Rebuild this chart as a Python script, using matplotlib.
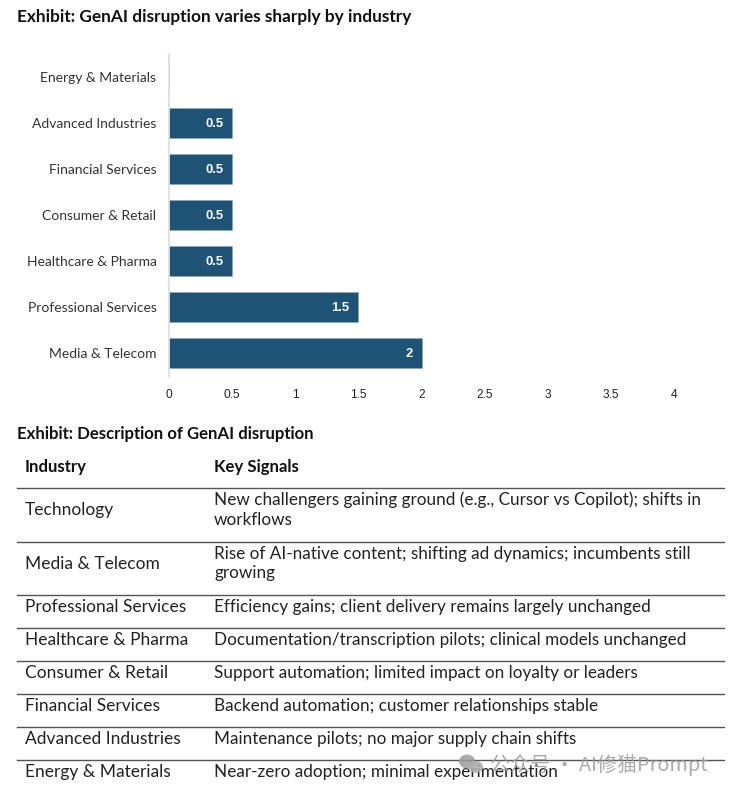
import matplotlib
matplotlib.use("Agg")
import matplotlib.pyplot as plt
from matplotlib.lines import Line2D
from matplotlib.patches import Ellipse

W, H = 731, 793
industries = ["Energy & Materials", "Advanced Industries", "Financial Services", "Consumer & Retail",
              "Healthcare & Pharma", "Professional Services", "Media & Telecom"]
scores = [0, 0.5, 0.5, 0.5, 0.5, 1.5, 2]
x_ticks = [0, 0.5, 1, 1.5, 2, 2.5, 3, 3.5, 4]
x_tick_labels = ["0", "0.5", "1", "1.5", "2", "2.5", "3", "3.5", "4"]
table_industries = ["Technology", "Media & Telecom", "Professional Services", "Healthcare & Pharma",
                    "Consumer & Retail", "Financial Services", "Advanced Industries", "Energy & Materials"]
table_signals = [
    "New challengers gaining ground (e.g., Cursor vs Copilot); shifts in\nworkflows",
    "Rise of AI-native content; shifting ad dynamics; incumbents still\ngrowing",
    "Efficiency gains; client delivery remains largely unchanged",
    "Documentation/transcription pilots; clinical models unchanged",
    "Support automation; limited impact on loyalty or leaders",
    "Backend automation; customer relationships stable",
    "Maintenance pilots; no major supply chain shifts",
    "Near-zero adoption; minimal experimentation",
]
title_1 = "Exhibit: GenAI disruption varies sharply by industry"
title_2 = "Exhibit: Description of GenAI disruption"
header = ["Industry", "Key Signals"]
watermark = "公众号 · AI修猫Prompt"

# layout (pixels from the top of the picture)
rule_y = [488, 542, 595, 628, 661, 694, 727, 760]
row_text_y = [510, 564, 607, 640, 673, 706, 739, 772]
signal_text_y = [510, 563.5, 607, 640, 673, 706, 739, 772]

plt.rcParams["font.family"] = ["Lato", "DejaVu Sans"]
fig = plt.figure(figsize=(W / 100, H / 100), dpi=100, facecolor="white")

def fx(p): return p / W
def fy(p): return 1 - p / H

ax = fig.add_axes([fx(169), fy(376), 505 / W, 322 / H])
ax.barh(range(len(industries)), scores, height=0.67, color="#1F5376", edgecolor="#8FA9BC", linewidth=0.4)
ax.set_xlim(0, 4)
ax.set_ylim(-0.5, len(industries) - 0.5)
ax.invert_yaxis()
ax.set_yticks(range(len(industries)), industries, fontsize=10.0, color="#333333")
ax.set_xticks(x_ticks, x_tick_labels, fontsize=8.6, color="#222222", family=["Liberation Sans"])
ax.tick_params(axis="x", length=0, pad=9)
ax.tick_params(axis="y", length=0, pad=9)
for s in ["top", "right", "bottom"]:
    ax.spines[s].set_visible(False)
ax.spines["left"].set_color("#DDDDDD")
ax.spines["left"].set_linewidth(1.2)
for b in [i - 0.5 for i in range(len(industries) + 1)]:
    ax.plot([-0.012, 0], [b, b], color="#DDDDDD", lw=1, clip_on=False, solid_capstyle="butt")
for i, v in enumerate(scores):
    if v > 0:
        ax.text(v - 0.07, i + 0.03, f"{v:g}", ha="right", va="center", color="white",
                fontsize=9.4, fontweight="bold", family=["Liberation Sans"])

def T(x, y, s, **kw):
    kw.setdefault("va", "center")
    return fig.text(fx(x), fy(y), s, **kw)

T(17, 17, title_1, fontsize=12.4, fontweight="bold", color="#111111")
T(17, 434, title_2, fontsize=12.1, fontweight="bold", color="#111111")
T(25, 467, header[0], fontsize=12.1, fontweight="bold", color="#111111")
T(214, 467, header[1], fontsize=12.1, fontweight="bold", color="#111111")

for y in rule_y:
    fig.add_artist(Line2D([fx(17), fx(724)], [fy(y), fy(y)], color="#555555", lw=1.0))
for a, b, ya, yb in zip(table_industries, table_signals, row_text_y, signal_text_y):
    T(25, ya, a, fontsize=12.5, color="#222222")
    T(214, yb, b, fontsize=12.3, color="#222222", linespacing=1.3)

# watermark
wm = "#9C9C9C"
fig.add_artist(Ellipse((fx(467), fy(761.5)), 16 / W, 14 / H, color=wm, alpha=0.85, lw=0, zorder=5))
fig.add_artist(Ellipse((fx(476), fy(767)), 14 / W, 12 / H, color="#ADADAD", alpha=0.9, lw=0, zorder=5))
T(490, 765, watermark, fontsize=14.4, color=wm, alpha=0.85,
  family=["Noto Sans CJK SC", "DejaVu Sans"])

fig.savefig("out.png", dpi=100, facecolor="white")
